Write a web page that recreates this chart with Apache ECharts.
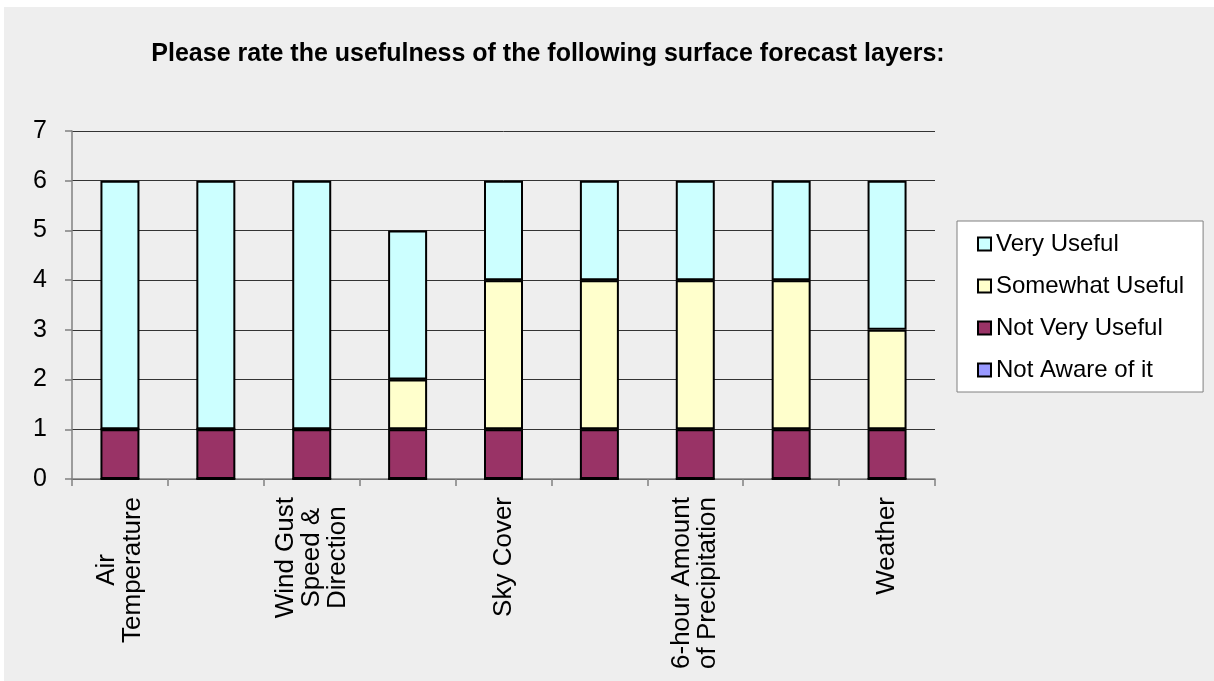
<!DOCTYPE html>
<html>
<head>
<meta charset="utf-8">
<script src="https://cdn.jsdelivr.net/npm/echarts@6/dist/echarts.min.js"></script>
<style>
html, body { margin: 0; padding: 0; background: #ffffff; }
#chart { position: absolute; left: 4px; top: 7px; width: 1210px; height: 674px; background: #eeeeee; }
</style>
</head>
<body>
<div id="chart"></div>
<script>
// categories (only every other one is labelled in the original)
const categories = [
    'Air\nTemperature',
    'Wind Speed &\nDirection',
    'Wind Gust\nSpeed &\nDirection',
    'Dew Point\nTemperature',
    'Sky Cover',
    'Probability of\nPrecipitation',
    '6-hour Amount\nof Precipitation',
    'Relative\nHumidity',
    'Weather'
]
const notAware = [0, 0, 0, 0, 0, 0, 0, 0, 0]
const notVeryUseful = [1, 1, 1, 1, 1, 1, 1, 1, 1]
const somewhatUseful = [0, 0, 0, 1, 3, 3, 3, 3, 2]
const veryUseful = [5, 5, 5, 3, 2, 2, 2, 2, 3]
const yTicks = { min: 0, max: 7, interval: 1 }

const font = 'Liberation Sans, Arial, sans-serif'

const chart = echarts.init(document.getElementById('chart'))

function barSeries (name, data, color) {
    return {
        name: name,
        type: 'bar',
        stack: 'total',
        barWidth: 39,
        data: data,
        itemStyle: {
            color: color,
            borderColor: '#000000',
            borderWidth: 2
        }
    }
}

const option = {
    backgroundColor: '#eeeeee',
    animation: false,
    title: {
        text: 'Please rate the usefulness of the following surface forecast layers:',
        left: 539,
        top: 30,
        textAlign: 'center',
        textStyle: {
            fontFamily: font,
            fontSize: 25,
            fontWeight: 'bold',
            color: '#000000'
        }
    },
    legend: {
        orient: 'vertical',
        left: 953,
        top: 214,
        data: ['Very Useful', 'Somewhat Useful', 'Not Very Useful', 'Not Aware of it'],
        backgroundColor: '#ffffff',
        borderColor: '#808080',
        borderWidth: 1,
        padding: [11, 19, 10, 20],
        itemGap: 18,
        itemWidth: 13,
        itemHeight: 13,
        icon: 'rect',
        itemStyle: { borderColor: '#000000', borderWidth: 2 },
        textStyle: {
            fontFamily: font,
            fontSize: 24,
            lineHeight: 24,
            color: '#000000'
        }
    },
    grid: {
        left: 68,
        right: 279,
        top: 124,
        bottom: 202
    },
    xAxis: {
        type: 'category',
        data: categories,
        axisLine: { lineStyle: { color: '#808080', width: 1.5 } },
        axisTick: {
            show: true,
            interval: 0,
            length: 7,
            lineStyle: { color: '#808080', width: 1.5 }
        },
        axisLabel: {
            interval: 1,
            rotate: 90,
            margin: 18,
            color: '#000000',
            fontFamily: font,
            fontSize: 26,
            lineHeight: 26,
            formatter: function (value) {
                return value.split('\n').map(function (s) { return '{c|' + s + '}' }).join('\n')
            },
            rich: {
                c: {
                    align: 'center',
                    fontFamily: font,
                    fontSize: 26,
                    lineHeight: 26,
                    color: '#000000'
                }
            }
        }
    },
    yAxis: {
        type: 'value',
        min: yTicks.min,
        max: yTicks.max,
        interval: yTicks.interval,
        axisLine: { show: true, lineStyle: { color: '#808080', width: 1.5 } },
        axisTick: { show: true, length: 7, lineStyle: { color: '#808080', width: 1.5 } },
        axisLabel: {
            margin: 25,
            color: '#000000',
            fontFamily: font,
            fontSize: 25
        },
        splitLine: { show: true, lineStyle: { color: '#333333', width: 1 } }
    },
    series: [
        barSeries('Not Aware of it', notAware, '#9999ff'),
        barSeries('Not Very Useful', notVeryUseful, '#993366'),
        barSeries('Somewhat Useful', somewhatUseful, '#ffffcc'),
        barSeries('Very Useful', veryUseful, '#ccffff')
    ]
}
chart.setOption(option)
window.addEventListener('resize', function () {
    chart.resize()
})
</script>
</body>
</html>
